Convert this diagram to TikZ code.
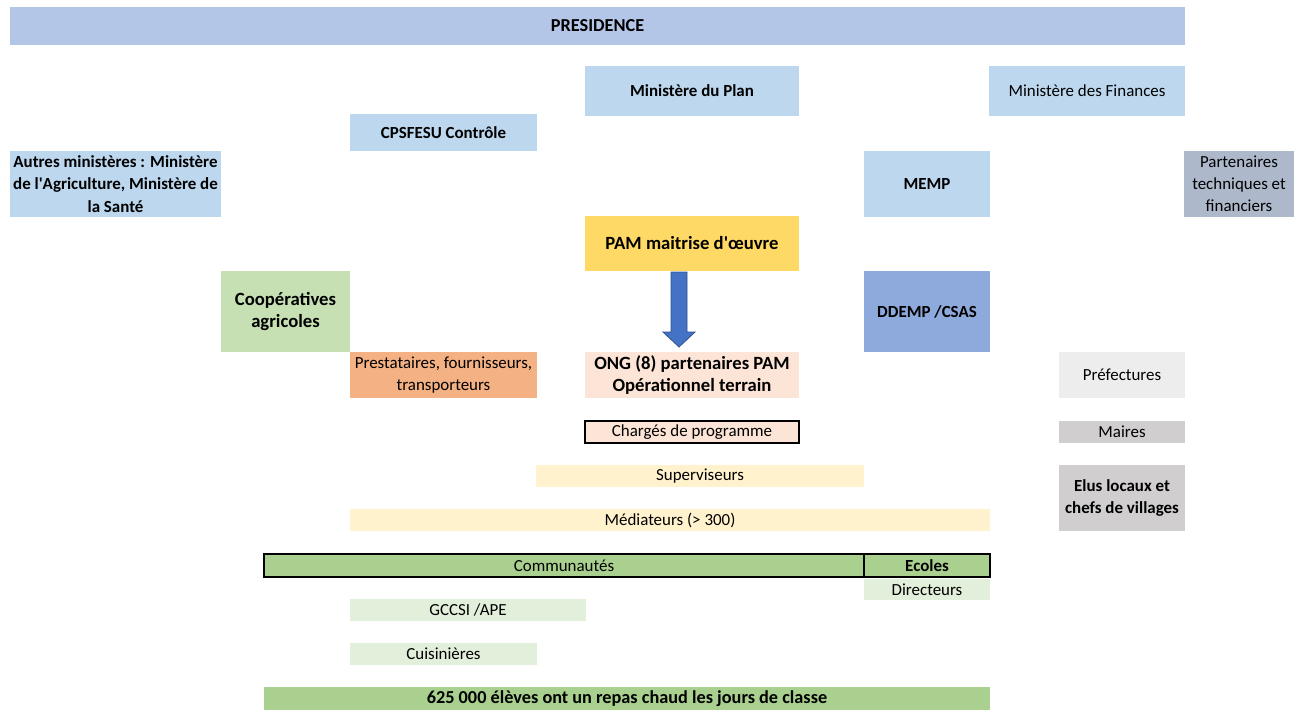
\documentclass[tikz,border=0pt]{standalone}
\usepackage{fontspec}
\setmainfont{Carlito}
\usetikzlibrary{positioning,calc}
\definecolor{presblue}{HTML}{B4C6E7}
\definecolor{minblue}{HTML}{BDD7EE}
\definecolor{ptfgray}{HTML}{ADB9CA}
\definecolor{pamyellow}{HTML}{FFD966}
\definecolor{coopgreen}{HTML}{C6E0B4}
\definecolor{ddempblue}{HTML}{8EA9DB}
\definecolor{prestorange}{HTML}{F4B183}
\definecolor{ongpeach}{HTML}{FCE4D6}
\definecolor{prefgray}{HTML}{EDEDED}
\definecolor{mairegray}{HTML}{D0CECE}
\definecolor{supcream}{HTML}{FFF2CC}
\definecolor{comgreen}{HTML}{A9D08E}
\definecolor{lightgreen}{HTML}{E2EFDA}
\definecolor{arrowblue}{HTML}{4472C4}
\definecolor{arrowedge}{HTML}{2F528F}

\begin{document}
\begin{tikzpicture}[
    x=0.75pt, y=-0.75pt,
    cell/.style={rectangle, inner sep=0.5pt, outer sep=0pt, align=center, font=\fontsize{12.7}{16.6}\selectfont},
    boldcell/.style={cell, font=\fontsize{12.7}{16.6}\selectfont\bfseries},
    titlecell/.style={cell, font=\fontsize{13.7}{16.6}\selectfont\bfseries},
    bigcell/.style={cell, font=\fontsize{14}{17}\selectfont\bfseries},
    framed/.style={draw=black, line width=1.1pt},
    blockarrow/.style={fill=arrowblue, draw=arrowedge, line width=0.6pt}
]
\useasboundingbox (0,0) rectangle (1294,710);

% Top level
\node[titlecell, fill=presblue, minimum width=881.25pt, minimum height=28.5pt] (presidence) at (597.5,26) {PRESIDENCE};

\node[boldcell, fill=minblue, minimum width=160.5pt, minimum height=37.5pt] (plan) at (692,91) {Ministère du Plan};
\node[cell, fill=minblue, minimum width=147pt, minimum height=37.5pt] (finances) at (1087,91) {Ministère des Finances};
\node[boldcell, fill=minblue, minimum width=140.25pt, minimum height=27.75pt] (cpsfesu) at (443.5,132.5) {CPSFESU Contrôle};

\node[boldcell, fill=minblue, minimum width=158.25pt, minimum height=49.5pt] (autres) at (115.5,184) {Autres ministères : Ministère\\de l\textquotesingle Agriculture, Ministère de\\la Santé};
\node[boldcell, fill=minblue, minimum width=94.5pt, minimum height=49.5pt] (memp) at (927,184) {MEMP};
\node[cell, fill=ptfgray, minimum width=82.5pt, minimum height=49.5pt] (ptf) at (1239,184) {Partenaires\\techniques et\\financiers};

% Maitrise d'oeuvre
\node[bigcell, fill=pamyellow, minimum width=160.5pt, minimum height=41.25pt] (pam) at (692,243.5) {PAM maitrise d\textquotesingle œuvre};
\node[bigcell, fill=coopgreen, minimum width=96.75pt, minimum height=60.75pt] (coop) at (285.5,311.5) {Coopératives\\agricoles};
\node[boldcell, fill=ddempblue, minimum width=94.5pt, minimum height=60.75pt] (ddemp) at (927,311.5) {DDEMP /CSAS};

% Terrain
\node[cell, fill=prestorange, minimum width=140.25pt, minimum height=34.5pt] (presta) at (443.5,375) {Prestataires, fournisseurs,\\transporteurs};
\node[bigcell, fill=ongpeach, minimum width=160.5pt, minimum height=34.5pt] (ong) at (692,375) {ONG (8) partenaires PAM\\Opérationnel terrain};
\node[cell, fill=prefgray, minimum width=94.5pt, minimum height=34.5pt] (prefectures) at (1122,375) {Préfectures};

\draw[blockarrow] ($(pam.south)+(-21,1)$) -- ++(16,0) -- ++(0,60) -- ++(8,0) -- ($(ong.north)+(-13,-5)$) -- ++(-16,-15) -- ++(8,0) -- cycle;

\node[cell, fill=ongpeach, framed, minimum width=160.5pt, minimum height=16.5pt] (charges) at (692,432) {Chargés de programme};
\node[cell, fill=mairegray, minimum width=94.5pt, minimum height=16.5pt] (maires) at (1122,432) {Maires};

\node[cell, fill=supcream, minimum width=246pt, minimum height=16.5pt] (superviseurs) at (700,476) {Superviseurs};
\node[boldcell, fill=mairegray, minimum width=94.5pt, minimum height=49.5pt] (elus) at (1122,498) {Elus locaux et\\chefs de villages};
\node[cell, fill=supcream, minimum width=480pt, minimum height=16.5pt] (mediateurs) at (670,520) {Médiateurs (> 300)};

% Communautes et ecoles
\node[cell, fill=comgreen, framed, minimum width=450pt, minimum height=17.25pt] (communautes) at (564,565.5) {Communautés};
\node[boldcell, fill=comgreen, framed, minimum width=94.5pt, minimum height=17.25pt] (ecoles) at (927,565.5) {Ecoles};
\node[cell, fill=lightgreen, minimum width=94.5pt, minimum height=15.75pt] (directeurs) at (927,589.5) {Directeurs};
\node[cell, fill=lightgreen, minimum width=177pt, minimum height=16.5pt] (gccsi) at (468,610) {GCCSI /APE};
\node[cell, fill=lightgreen, minimum width=140.25pt, minimum height=16.5pt] (cuisinieres) at (443.5,654) {Cuisinières};

% Beneficiaires
\node[titlecell, fill=comgreen, minimum width=544.5pt, minimum height=17.25pt] (eleves) at (627,698.5) {625 000 élèves ont un repas chaud les jours de classe};

\end{tikzpicture}
\end{document}
